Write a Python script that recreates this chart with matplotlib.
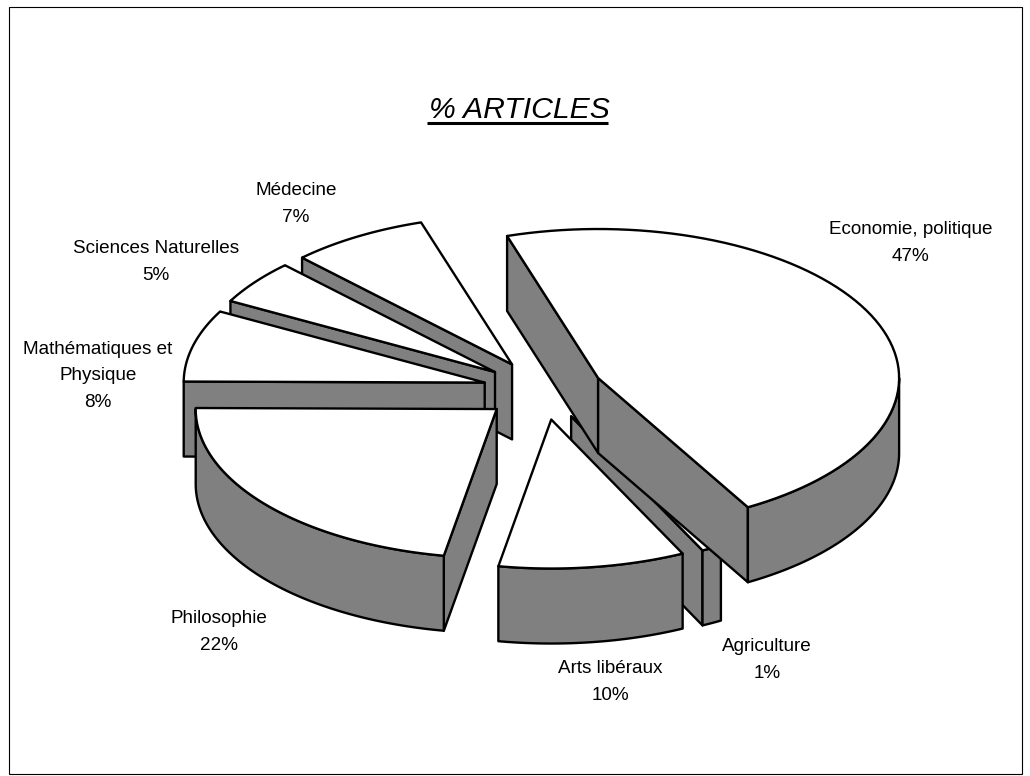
import numpy as np
import matplotlib
matplotlib.use('Agg')
import matplotlib.pyplot as plt
from matplotlib.patches import Polygon, Rectangle

plt.rcParams['font.family'] = ['Liberation Sans', 'DejaVu Sans']

# data, clockwise from the first slice
labels = ['Economie, politique', 'Agriculture', 'Arts libéraux', 'Philosophie',
          'Mathématiques et\nPhysique', 'Sciences Naturelles', 'Médecine']
values = [46.6, 1.1, 10, 22.3, 7.8, 4.8, 7.4]

# pie geometry in pixels
cx, cy = 543, 390
rx, ry = 301, 149
depth = 75
explode = 0.2
start_angle = -17.6
draw_order = [1, 2, 6, 5, 4, 3, 0]
label_pos = [(911, 243), (767, 660), (610, 682), (219, 632), (98, 376), (156, 262), (296, 204)]

fig = plt.figure(figsize=(10.3, 7.76), dpi=100)
ax = fig.add_axes([0, 0, 1, 1])
ax.set_xlim(0, 1030)
ax.set_ylim(776, 0)
ax.axis('off')

ax.add_patch(Rectangle((8.5, 6.5), 1013, 767, fill=False, ec='black', lw=0.8))


def rim(ox, oy, a, b, dz=0):
    t = np.radians(np.linspace(a, b, 80))
    return np.column_stack([ox + rx * np.sin(t), oy - ry * np.cos(t) + dz])


def wall(pts, z):
    ax.add_patch(Polygon(pts, closed=True, fc='#808080', ec='black', lw=1.7, joinstyle='round', zorder=z))


edges = start_angle + np.cumsum([0] + [v * 3.6 for v in values])

for z, i in enumerate(draw_order):
    a, b = edges[i], edges[i + 1]
    mid = np.radians((a + b) / 2)
    ox = cx + explode * rx * np.sin(mid)
    oy = cy - explode * ry * np.cos(mid)
    top = rim(ox, oy, a, b)
    base = z * 3 + 2

    # radial walls, only the ones that face the viewer
    if np.sin(np.radians(a)) < 0:
        p = top[0]
        wall([(ox, oy), p, (p[0], p[1] + depth), (ox, oy + depth)], base)
    if np.sin(np.radians(b)) > 0:
        p = top[-1]
        wall([(ox, oy), p, (p[0], p[1] + depth), (ox, oy + depth)], base)

    # outer wall on the front half of the ellipse
    lo, hi = max(a, 90), min(b, 270)
    if lo < hi:
        front = rim(ox, oy, lo, hi)
        wall(np.vstack([front, rim(ox, oy, lo, hi, depth)[::-1]]), base + 1)

    ax.add_patch(Polygon(np.vstack([[ox, oy], top]), closed=True, fc='white', ec='black',
                         lw=1.7, joinstyle='round', zorder=base + 2))

for name, val, (x, y) in zip(labels, values, label_pos):
    ax.text(x, y, f'{name}\n{round(val)}%', ha='center', va='center', fontsize=13.6,
            linespacing=1.7, color='black', zorder=50)

ax.text(519, 118, '% ARTICLES', ha='center', va='baseline', fontsize=21.7, style='italic', zorder=50)
ax.plot([427, 608], [123, 123], color='black', lw=2.2, solid_capstyle='butt', zorder=50)

fig.savefig('out.png', dpi=100)
